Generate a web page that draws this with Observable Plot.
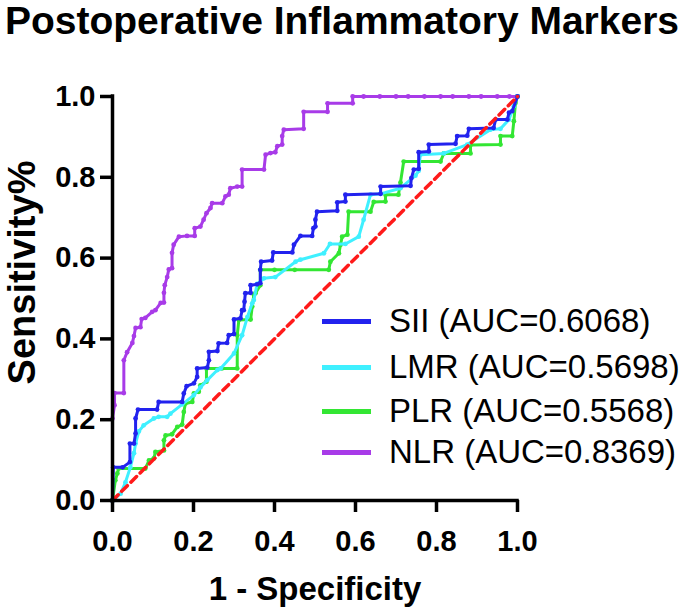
<!DOCTYPE html>
<html>
<head>
<meta charset="utf-8">
<script src="https://cdn.jsdelivr.net/npm/d3@7"></script>
<script src="https://cdn.jsdelivr.net/npm/@observablehq/plot@0.6"></script>
<style>
  body { margin: 0; background: white; }
  #wrap { position: relative; width: 688px; height: 613px; font-family: "Liberation Sans", Arial, sans-serif; overflow: hidden; }
  #title { position: absolute; left: 0; width: 684px; text-align: center; top: 1px; font-size: 39px; line-height: 40px; font-weight: bold; white-space: nowrap; color: #000; }
  #spacer { height: 44px; }
  #legend { position: absolute; left: 0; top: 0; width: 688px; height: 613px; pointer-events: none; }
  .lg-row { position: absolute; left: 322px; height: 40px; display: flex; align-items: center; }
  .lg-line { width: 49px; height: 5px; margin-right: 18px; }
  .lg-text { font-size: 33px; color: #000; white-space: nowrap; }
</style>
</head>
<body>
<div id="wrap">
  <div id="title">Postoperative Inflammatory Markers</div>
  <div id="spacer"></div>
  <div id="chart"></div>
  <div id="legend"></div>
</div>
<script>
// ---- data (1 - specificity, sensitivity) ----
const seriesNames = ["SII", "LMR", "PLR", "NLR"];
const aucValues = ["0.6068", "0.5698", "0.5568", "0.8369"];
const seriesColors = ["#2222ee", "#3ff0ff", "#33e633", "#a83be8"];

const sii = [
  [0,0],[0.002,0.082],[0.025,0.082],[0.043,0.095],[0.043,0.141],[0.053,0.141],[0.057,0.166],[0.057,0.203],
  [0.063,0.225],[0.110,0.225],[0.114,0.244],[0.172,0.244],[0.176,0.265],[0.183,0.283],[0.201,0.290],
  [0.209,0.306],[0.209,0.327],[0.234,0.329],[0.238,0.347],[0.238,0.368],[0.259,0.370],[0.262,0.389],
  [0.283,0.390],[0.287,0.409],[0.300,0.412],[0.300,0.448],[0.316,0.451],[0.320,0.471],[0.324,0.471],
  [0.326,0.492],[0.328,0.513],[0.341,0.514],[0.341,0.533],[0.357,0.535],[0.365,0.538],[0.365,0.571],
  [0.367,0.591],[0.394,0.594],[0.397,0.614],[0.444,0.614],[0.448,0.633],[0.464,0.655],[0.493,0.655],
  [0.496,0.674],[0.501,0.678],[0.501,0.695],[0.505,0.715],[0.555,0.717],[0.555,0.738],[0.575,0.740],
  [0.575,0.757],[0.662,0.759],[0.662,0.777],[0.736,0.779],[0.738,0.798],[0.744,0.819],[0.756,0.821],
  [0.756,0.862],[0.781,0.864],[0.781,0.881],[0.847,0.883],[0.851,0.902],[0.876,0.903],[0.880,0.920],
  [0.941,0.922],[0.946,0.943],[0.975,0.943],[0.979,0.960],[0.987,0.964],[1,1]
];
const lmr = [
  [0,0],[0.020,0.017],[0.032,0.045],[0.044,0.082],[0.053,0.117],[0.057,0.141],[0.065,0.171],[0.077,0.186],
  [0.102,0.203],[0.114,0.207],[0.135,0.207],[0.143,0.215],[0.172,0.238],[0.201,0.261],[0.217,0.280],
  [0.234,0.298],[0.259,0.323],[0.267,0.327],[0.300,0.364],[0.320,0.409],[0.333,0.454],[0.345,0.488],
  [0.349,0.496],[0.357,0.536],[0.374,0.550],[0.402,0.553],[0.452,0.591],[0.464,0.596],[0.522,0.612],
  [0.537,0.635],[0.575,0.635],[0.608,0.653],[0.620,0.695],[0.637,0.757],[0.662,0.759],[0.711,0.773],
  [0.748,0.804],[0.756,0.816],[0.760,0.856],[0.818,0.859],[0.876,0.881],[0.933,0.918],[0.958,0.920],
  [0.979,0.943],[0.991,0.976],[1,1]
];
const plr = [
  [0,0],[0.007,0.050],[0.012,0.067],[0.015,0.079],[0.081,0.079],[0.090,0.099],[0.102,0.104],[0.106,0.120],
  [0.127,0.124],[0.127,0.149],[0.131,0.161],[0.147,0.164],[0.160,0.182],[0.172,0.188],[0.176,0.219],
  [0.180,0.240],[0.197,0.244],[0.201,0.265],[0.213,0.269],[0.217,0.285],[0.232,0.294],[0.232,0.327],
  [0.270,0.327],[0.308,0.327],[0.308,0.409],[0.312,0.447],[0.341,0.448],[0.345,0.480],[0.349,0.509],
  [0.353,0.513],[0.365,0.533],[0.365,0.571],[0.400,0.571],[0.450,0.571],[0.534,0.571],[0.538,0.591],
  [0.559,0.612],[0.563,0.633],[0.567,0.653],[0.580,0.658],[0.583,0.715],[0.637,0.715],[0.645,0.739],
  [0.674,0.740],[0.674,0.757],[0.706,0.757],[0.711,0.787],[0.719,0.839],[0.810,0.839],[0.818,0.859],
  [0.884,0.859],[0.884,0.880],[0.958,0.881],[0.958,0.902],[0.987,0.902],[0.991,0.939],[0.995,0.984],[1,1]
];
const nlr = [
  [0,0],[0,0.203],[0.005,0.236],[0.005,0.266],[0.028,0.266],[0.028,0.347],[0.036,0.367],[0.049,0.390],
  [0.053,0.407],[0.057,0.427],[0.069,0.429],[0.072,0.449],[0.081,0.452],[0.098,0.467],[0.106,0.471],
  [0.119,0.489],[0.127,0.490],[0.127,0.514],[0.129,0.533],[0.135,0.553],[0.139,0.572],[0.147,0.575],
  [0.147,0.613],[0.151,0.633],[0.164,0.653],[0.184,0.655],[0.203,0.655],[0.203,0.674],[0.217,0.678],
  [0.225,0.695],[0.232,0.711],[0.242,0.724],[0.246,0.736],[0.271,0.736],[0.279,0.753],[0.287,0.757],
  [0.291,0.773],[0.308,0.777],[0.320,0.777],[0.320,0.819],[0.374,0.819],[0.378,0.856],[0.390,0.860],
  [0.402,0.862],[0.407,0.877],[0.419,0.881],[0.419,0.902],[0.423,0.918],[0.472,0.920],[0.472,0.962],
  [0.531,0.962],[0.531,0.983],[0.593,0.983],[0.593,1],[0.62,1],[0.66,1],[0.70,1],[0.73,1],[0.77,1],
  [0.81,1],[0.84,1],[0.88,1],[0.91,1],[0.95,1],[0.98,1],[1,1]
];
const seriesData = [sii, lmr, plr, nlr];
const referenceLine = [[0,0],[1,1]];
const xTicks = [0, 0.2, 0.4, 0.6, 0.8, 1.0];
const yTicks = [0, 0.2, 0.4, 0.6, 0.8, 1.0];
const xLabel = "1 - Specificity";
const yLabel = "Sensitivity%";

// ---- chart ----
const drawOrder = [3, 2, 1, 0]; // NLR, PLR, LMR, SII
const curveMarks = [];
for (const i of drawOrder) {
  const pts = seriesData[i].map(([x, y]) => ({x, y}));
  curveMarks.push(Plot.line(pts, {x: "x", y: "y", stroke: seriesColors[i], strokeWidth: 3}));
  curveMarks.push(Plot.dot(pts, {x: "x", y: "y", fill: seriesColors[i], r: 2.4}));
}

const chart = Plot.plot({
  width: 688,
  height: 569,
  marginTop: 52,
  marginBottom: 113,
  marginLeft: 112,
  marginRight: 171,
  style: {fontFamily: "'Liberation Sans', Arial, sans-serif", background: "white", color: "black", overflow: "visible"},
  x: {domain: [0, 1]},
  y: {domain: [0, 1]},
  marks: [
    ...curveMarks,
    Plot.line(referenceLine.map(([x, y]) => ({x, y})), {x: "x", y: "y", stroke: "#ff1a1a", strokeWidth: 3.5, strokeDasharray: "8,5"}),
    Plot.ruleY([0], {strokeWidth: 3.5, stroke: "black", strokeLinecap: "square"}),
    Plot.ruleX([0], {strokeWidth: 3.5, stroke: "black", strokeLinecap: "square"}),
    Plot.axisX({ticks: xTicks, tickFormat: d3.format(".1f"), tickSize: 12, tickPadding: 18, fontSize: 29, fontWeight: "bold", strokeWidth: 3.5, label: null}),
    Plot.axisY({ticks: yTicks, tickFormat: d3.format(".1f"), tickSize: 12, tickPadding: 5, fontSize: 29, fontWeight: "bold", strokeWidth: 3.5, label: null}),
    Plot.text([xLabel], {frameAnchor: "bottom", dy: 89, lineAnchor: "middle", fontSize: 33, fontWeight: "bold", fill: "black"}),
    Plot.text([yLabel], {frameAnchor: "left", dx: -90, dy: -26, rotate: -90, textAnchor: "middle", lineAnchor: "middle", fontSize: 38, fontWeight: "bold", fill: "black"})
  ]
});
document.getElementById("chart").appendChild(chart);

// ---- legend (inside the plot, right side) ----
const legend = document.getElementById("legend");
const rowTops = [301, 347, 391, 432];
seriesNames.forEach((name, i) => {
  const row = document.createElement("div");
  row.className = "lg-row";
  row.style.top = rowTops[i] + "px";
  const line = document.createElement("div");
  line.className = "lg-line";
  line.style.background = seriesColors[i];
  const txt = document.createElement("div");
  txt.className = "lg-text";
  txt.textContent = `${name} (AUC=${aucValues[i]})`;
  row.appendChild(line);
  row.appendChild(txt);
  legend.appendChild(row);
});
</script>
</body>
</html>
